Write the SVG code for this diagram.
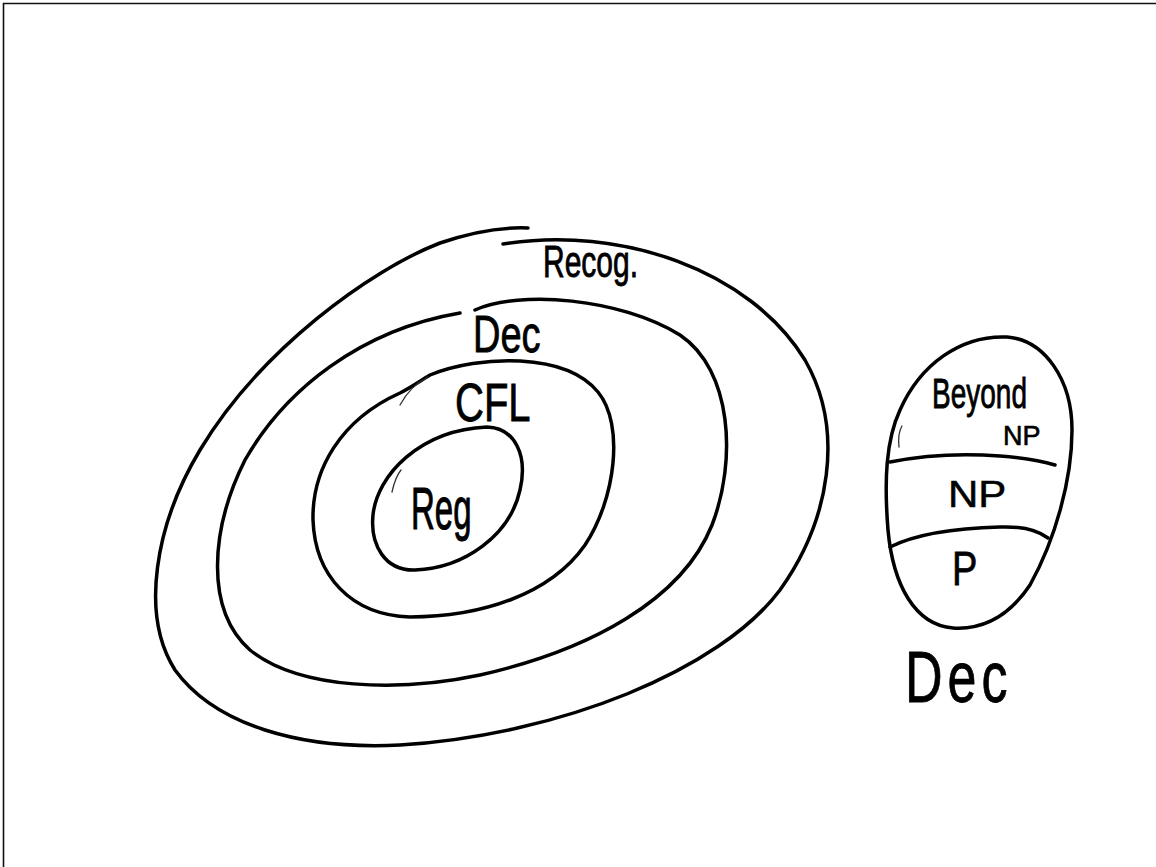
<svg xmlns="http://www.w3.org/2000/svg" width="1156" height="867" viewBox="0 0 1156 867">
<style>
.ring{fill:none;stroke:#000;stroke-width:3.5;stroke-linecap:round;stroke-linejoin:round}
.mark{fill:none;stroke:#333;stroke-width:1.3;stroke-linecap:round}
.frame{stroke:#111;stroke-width:1.6;fill:none}
.lbl{font-family:"Liberation Sans",Arial,sans-serif;fill:#000;stroke:#000;stroke-width:0.6}
</style>
<rect width="1156" height="867" fill="#fff"/>
<path class="frame" d="M3.5,867 L3.5,3.5 L1156,3.5"/>
<g id="recog">
<path class="ring" d="M503,244 C620,225 750,270 805,360 C845,430 830,520 780,590 C720,670 560,735 400,745 C300,750 215,725 175,670 C140,615 155,525 200,450 C260,350 370,270 440,243 C475,231 505,227 528,228"/>
<text class="lbl" font-size="30" transform="translate(543,277) scale(1,1.45)">Recog.</text>
</g>
<g id="dec">
<path class="ring" d="M475,310 C520,290 620,298 680,335 C732,370 737,460 712,525 C682,600 590,650 480,675 C400,692 300,690 250,650 C205,610 210,530 245,460 C285,390 360,330 460,313"/>
<text class="lbl" font-size="38" transform="translate(473,352) scale(1,1.38)">Dec</text>
</g>
<g id="cfl">
<path class="ring" d="M430,375 C480,355 565,352 598,392 C625,425 615,500 585,545 C550,595 480,617 410,617 C350,615 315,575 313,520 C312,470 340,420 400,393 C410,388 420,381 430,375"/>
<path class="mark" d="M400,405 C407,392 416,383 428,377"/>
<text class="lbl" font-size="40" transform="translate(455,421) scale(1,1.35)">CFL</text>
</g>
<g id="reg">
<path class="ring" d="M487,427 C515,428 528,455 520,490 C510,535 465,568 415,570 C385,571 370,545 373,515 C377,475 420,430 487,427 Z"/>
<path class="mark" d="M392,492 C394,483 396,476 401,470"/>
<text class="lbl" font-size="33" transform="translate(411,529) scale(1,1.8)">Reg</text>
</g>
<g id="dec-box">
<path class="ring" d="M1007,337 C1045,340 1072,380 1072,430 C1072,480 1055,540 1030,585 C1010,615 985,630 953,628 C915,625 893,585 888,530 C884,480 886,440 900,410 C920,365 960,335 1007,337 Z"/>
<path class="mark" d="M899,447 C898,438 899,431 902,426"/>
<path class="ring" d="M890,462 C920,456 960,453 1000,456 C1025,458 1045,462 1055,465"/>
<path class="ring" d="M890,547 C920,532 960,528 1000,527 C1025,526 1040,532 1048,538"/>
<text class="lbl" font-size="28" transform="translate(932,408) scale(1,1.5)">Beyond</text>
<text class="lbl" font-size="27" transform="translate(1003,445)">NP</text>
<text class="lbl" font-size="42" transform="translate(948,507) scale(1,0.9)">NP</text>
<text class="lbl" font-size="38" transform="translate(952,585) scale(1,1.25)">P</text>
<text class="lbl" font-size="52" letter-spacing="5" transform="translate(905,702) scale(1,1.4)">Dec</text>
</g>
</svg>
